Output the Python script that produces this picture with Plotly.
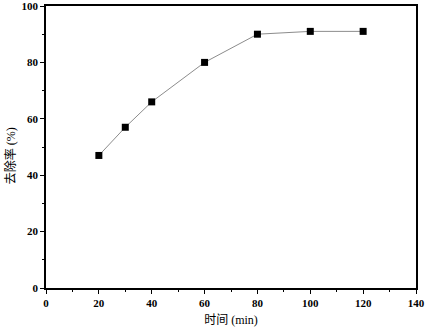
import plotly.graph_objects as go

time_min = [20, 30, 40, 60, 80, 100, 120]
removal_pct = [47, 57, 66, 80, 90, 91, 91]

x_ticks = [0, 20, 40, 60, 80, 100, 120, 140]
y_ticks = [0, 20, 40, 60, 80, 100]

fig = go.Figure()
fig.add_trace(go.Scatter(
    x=time_min, y=removal_pct, mode="lines+markers",
    line=dict(color="#8c8c8c", width=1),
    marker=dict(symbol="square", size=7, color="black"),
    showlegend=False,
))

axis_common = dict(
    showline=True, linecolor="black", linewidth=1.5, mirror=True,
    showgrid=False, zeroline=False,
    ticks="outside", ticklen=4, tickwidth=1.2, tickcolor="black",
    minor=dict(ticks="outside", ticklen=2, tickwidth=1, tickcolor="black", dtick=10),
    tickfont=dict(family="Liberation Serif", size=11, color="black", weight="bold"),
    ticklabeloverflow="allow",
)

title_font = dict(family="Liberation Serif, Noto Sans CJK SC", size=12, color="black")

fig.update_xaxes(
    range=[0, 140], tickvals=x_ticks, ticktext=[str(v) for v in x_ticks],
    title=dict(text="时间 (min)", font=title_font, standoff=8),
    **axis_common,
)
fig.update_yaxes(
    range=[0, 100], tickvals=y_ticks, ticktext=[str(v) for v in y_ticks],
    **axis_common,
)

fig.add_annotation(
    text="去除率 (%)", textangle=-90, showarrow=False,
    xref="paper", yref="paper", x=-0.095, y=0.47,
    xanchor="center", yanchor="middle", font=title_font,
)

fig.update_layout(
    width=425, height=330,
    margin=dict(l=46, r=9, t=6, b=42, autoexpand=False),
    plot_bgcolor="white", paper_bgcolor="white",
)

fig.write_html("out.html", config={"displayModeBar": False},
               post_script="document.body.style.margin='0';")
